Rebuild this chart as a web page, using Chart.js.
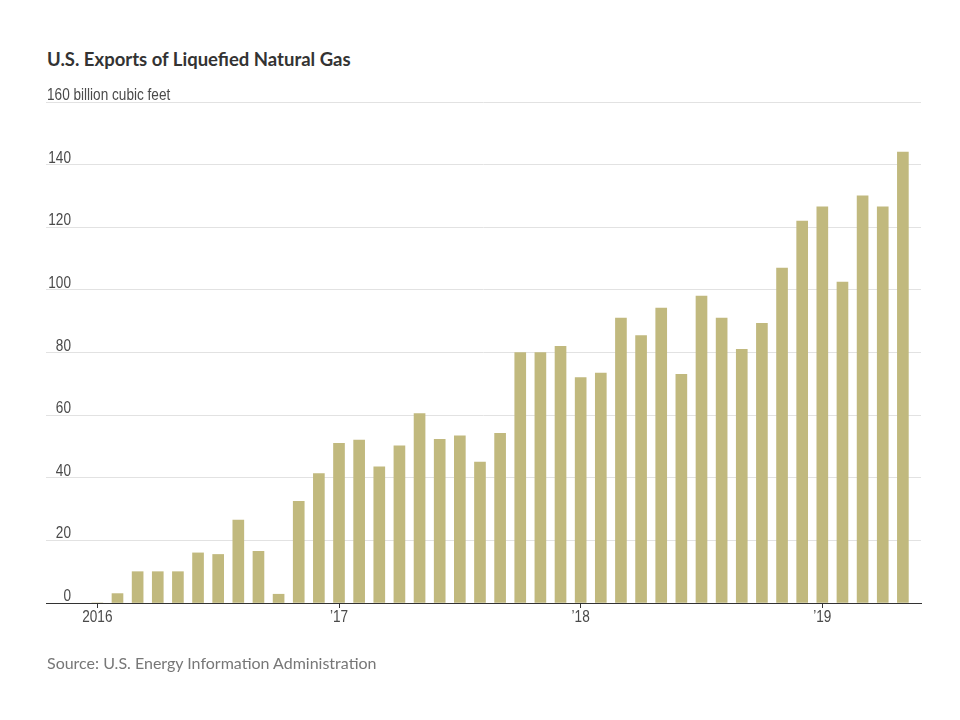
<!DOCTYPE html>
<html lang="en">
<head>
    <meta charset="UTF-8">
    <title>U.S. Exports of Liquefied Natural Gas</title>
    <style>
        * {
            padding: 0;
            margin: 0;
            box-sizing: border-box;
        }

        body {
            width: 960px;
            height: 720px;
            background: #ffffff;
            position: relative;
            overflow: hidden;
        }

        #title {
            position: absolute;
            left: 47px;
            top: 48px;
            font-family: "Lato", sans-serif;
            font-weight: 700;
            font-size: 18.5px;
            color: #333333;
        }

        #source {
            position: absolute;
            left: 47px;
            top: 653px;
            font-family: "Lato", sans-serif;
            font-size: 16px;
            color: #777777;
        }

        #chart {
            position: absolute;
            left: 0;
            top: 0;
        }
    </style>
</head>
<body>
    <div id="title">U.S. Exports of Liquefied Natural Gas</div>
    <canvas id="chart" width="960" height="720"></canvas>
    <div id="source">Source: U.S. Energy Information Administration</div>

    <script src="https://cdn.jsdelivr.net/npm/chart.js@4.4.1/dist/chart.umd.min.js"></script>
    <script>
        // monthly exports, Jan 2016 .. May 2019 (billion cubic feet)
        const months = [
            "2016-01", "2016-02", "2016-03", "2016-04", "2016-05", "2016-06",
            "2016-07", "2016-08", "2016-09", "2016-10", "2016-11", "2016-12",
            "2017-01", "2017-02", "2017-03", "2017-04", "2017-05", "2017-06",
            "2017-07", "2017-08", "2017-09", "2017-10", "2017-11", "2017-12",
            "2018-01", "2018-02", "2018-03", "2018-04", "2018-05", "2018-06",
            "2018-07", "2018-08", "2018-09", "2018-10", "2018-11", "2018-12",
            "2019-01", "2019-02", "2019-03", "2019-04", "2019-05"
        ];
        const exportsBcf = [
            0, 3, 10, 10, 10, 16, 15.5, 26.5, 16.5, 2.8, 32.5, 41.3,
            51, 52, 43.5, 50.2, 60.5, 52.3, 53.4, 45, 54.2, 80, 80, 82,
            72, 73.4, 91, 85.4, 94.2, 73, 98, 91, 81, 89.3, 107, 122,
            126.5, 102.5, 130, 126.5, 144
        ];
        const yearTickIndex = [0, 12, 24, 36];
        const yearTickLabels = ["2016", "\u201917", "\u201918", "\u201919"];
        const yTickValues = [0, 20, 40, 60, 80, 100, 120, 140, 160];
        const yUnitLabel = "160 billion cubic feet";

        const barColor = "#c1b97e";
        const labelFont = '17px "Liberation Sans", Arial, sans-serif';
        const squeeze = 0.8;   // narrow look of the original axis face

        // draws a horizontally condensed label
        const narrowText = (ctx, text, x, y, align) => {
            ctx.save();
            ctx.translate(x, y);
            ctx.scale(squeeze, 1);
            ctx.textAlign = align;
            ctx.fillText(text, 0, 0);
            ctx.restore();
        };

        // axis labels: y labels sit above each gridline, x labels under the year ticks
        const axisLabelPlugin = {
            id: "axisLabels",
            afterDraw(chart) {
                const ctx = chart.ctx;
                const yScale = chart.scales.y;
                const xScale = chart.scales.x;
                ctx.save();
                ctx.font = labelFont;
                ctx.fillStyle = "#4a4a4a";
                ctx.textBaseline = "alphabetic";
                yTickValues.forEach((v) => {
                    const py = yScale.getPixelForValue(v) - 2;
                    if (v === 160) {
                        narrowText(ctx, yUnitLabel, 47, py, "left");
                    } else {
                        narrowText(ctx, String(v), 71, py, "right");
                    }
                });
                yearTickIndex.forEach((v, i) => {
                    const px = xScale.getPixelForValue(v);
                    narrowText(ctx, yearTickLabels[i], px, xScale.top + 19, "center");
                });
                ctx.restore();
            }
        };

        new Chart(document.getElementById("chart"), {
            type: "bar",
            plugins: [axisLabelPlugin],
            data: {
                datasets: [{
                    data: exportsBcf.map((v, i) => ({ x: i, y: v, month: months[i] })),
                    backgroundColor: barColor,
                    borderWidth: 0,
                    barThickness: 11,
                }],
            },
            options: {
                responsive: false,
                animation: false,
                layout: {
                    padding: { left: 46, right: 39, top: 102, bottom: 87 },
                },
                plugins: {
                    legend: { display: false },
                    tooltip: { enabled: false },
                },
                scales: {
                    x: {
                        type: "linear",
                        offset: false,
                        min: -2.55,
                        max: 40.9,
                        afterBuildTicks: (scale) => {
                            scale.ticks = yearTickIndex.map((v) => ({ value: v }));
                        },
                        afterFit: (scale) => { scale.height = 30; },
                        ticks: { display: false },
                        grid: {
                            offset: false,
                            drawOnChartArea: false,
                            drawTicks: true,
                            tickLength: 5,
                            color: "#333333",
                        },
                        border: { display: true, color: "#333333", width: 1 },
                    },
                    y: {
                        min: 0,
                        max: 160,
                        afterBuildTicks: (scale) => {
                            scale.ticks = yTickValues.map((v) => ({ value: v }));
                        },
                        afterFit: (scale) => { scale.width = 0; },
                        ticks: { display: false },
                        grid: {
                            color: "#e2e2e2",
                            drawTicks: false,
                        },
                        border: { display: false },
                    },
                },
            },
        });
    </script>
</body>
</html>
